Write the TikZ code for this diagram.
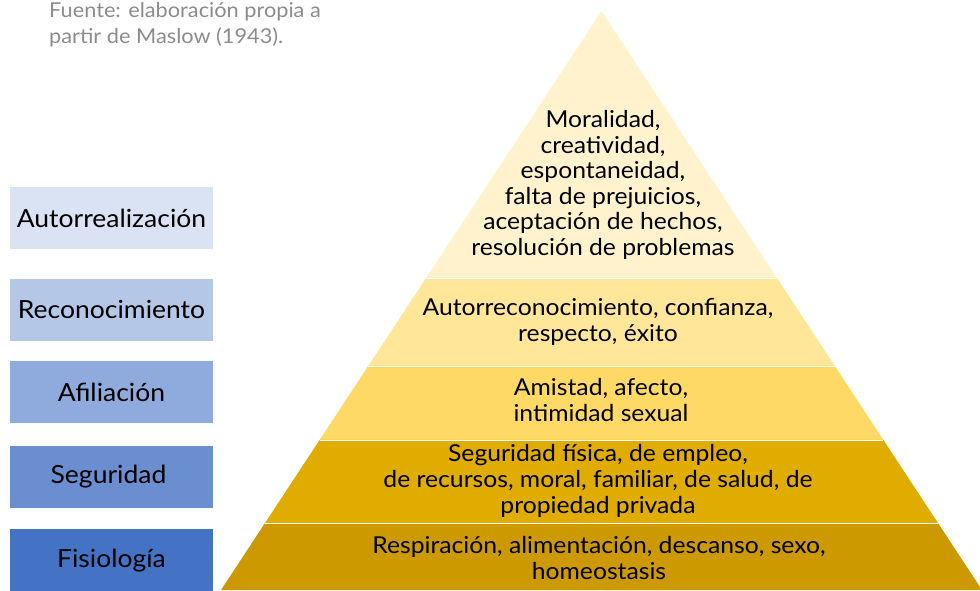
\documentclass[tikz,border=0pt]{standalone}
\usepackage{fontspec}
\setmainfont{Lato}[FakeStretch=1.06]
\usetikzlibrary{calc}
\definecolor{lvA}{HTML}{FFF2CC}
\definecolor{lvB}{HTML}{FFE699}
\definecolor{lvC}{HTML}{FFD966}
\definecolor{lvD}{HTML}{E0AC00}
\definecolor{lvE}{HTML}{CC9A00}
\definecolor{bxA}{HTML}{DAE3F3}
\definecolor{bxB}{HTML}{B4C7E7}
\definecolor{bxC}{HTML}{8FAADC}
\definecolor{bxD}{HTML}{6A8ED0}
\definecolor{bxE}{HTML}{4472C4}
\definecolor{srcgray}{HTML}{8C8C8C}
\tikzset{
  lbox/.style={minimum width=203pt, minimum height=62pt, inner sep=0pt, font=\fontsize{25}{28}\selectfont, text=black},
  ptext/.style={align=center, font=\fontsize{23.3}{25.6}\selectfont, text=black, inner sep=0pt},
  sep/.style={draw=white, line width=0.8pt}
}
\begin{document}
\begin{tikzpicture}[x=1pt,y=-1pt]
\useasboundingbox (0,0) rectangle (980,590);
\coordinate (A) at (601.5,11);
\coordinate (BL) at (221,590);
\coordinate (BR) at (982,590);
\coordinate (l1) at ($(A)!0.4611!(BL)$); \coordinate (r1) at ($(A)!0.4611!(BR)$);
\coordinate (l2) at ($(A)!0.6131!(BL)$); \coordinate (r2) at ($(A)!0.6131!(BR)$);
\coordinate (l3) at ($(A)!0.7409!(BL)$); \coordinate (r3) at ($(A)!0.7409!(BR)$);
\coordinate (l4) at ($(A)!0.8843!(BL)$); \coordinate (r4) at ($(A)!0.8843!(BR)$);
\fill[lvA] (A) -- (l1) -- (r1) -- cycle;
\fill[lvB] (l1) -- (l2) -- (r2) -- (r1) -- cycle;
\fill[lvC] (l2) -- (l3) -- (r3) -- (r2) -- cycle;
\fill[lvD] (l3) -- (l4) -- (r4) -- (r3) -- cycle;
\fill[lvE] (l4) -- (BL) -- (BR) -- (r4) -- cycle;
\draw[sep] (l1) -- (r1);
\draw[sep] (l2) -- (r2);
\draw[sep] (l3) -- (r3);
\draw[sep] (l4) -- (r4);
% pyramid texts
\node[ptext] (t1) at (603,185) {Moralidad,\\creatividad,\\espontaneidad,\\falta de prejuicios,\\aceptación de hechos,\\resolución de problemas};
\node[ptext] (t2) at (598,322) {Autorreconocimiento, confianza,\\respecto, éxito};
\node[ptext] (t3) at (601,400) {Amistad, afecto,\\ intimidad sexual};
\node[ptext] (t4) at (598,481) {Seguridad física, de empleo,\\de recursos, moral, familiar, de salud, de\\propiedad privada};
\node[ptext] (t5) at (599,558) {Respiración, alimentación, descanso, sexo,\\homeostasis};
% left boxes
\node[lbox, fill=bxA] (b1) at (111.5,218) {Autorrealización};
\node[lbox, fill=bxB] (b2) at (111.5,309.5) {Reconocimiento};
\node[lbox, fill=bxC] (b3) at (111.5,392) {Afiliación};
\node[lbox, fill=bxD] (b4) at (111.5,476.5) {\hspace*{-6pt}Seguridad};
\node[lbox, fill=bxE, minimum height=64pt] (b5) at (111.5,561) {Fisiología};
% source
\node[anchor=north west, align=left, inner sep=0pt, text=srcgray, font=\fontsize{20.5}{26}\selectfont] (src) at (49,2) {Fuente: elaboración propia a\\partir de Maslow (1943).};
\end{tikzpicture}
\end{document}
